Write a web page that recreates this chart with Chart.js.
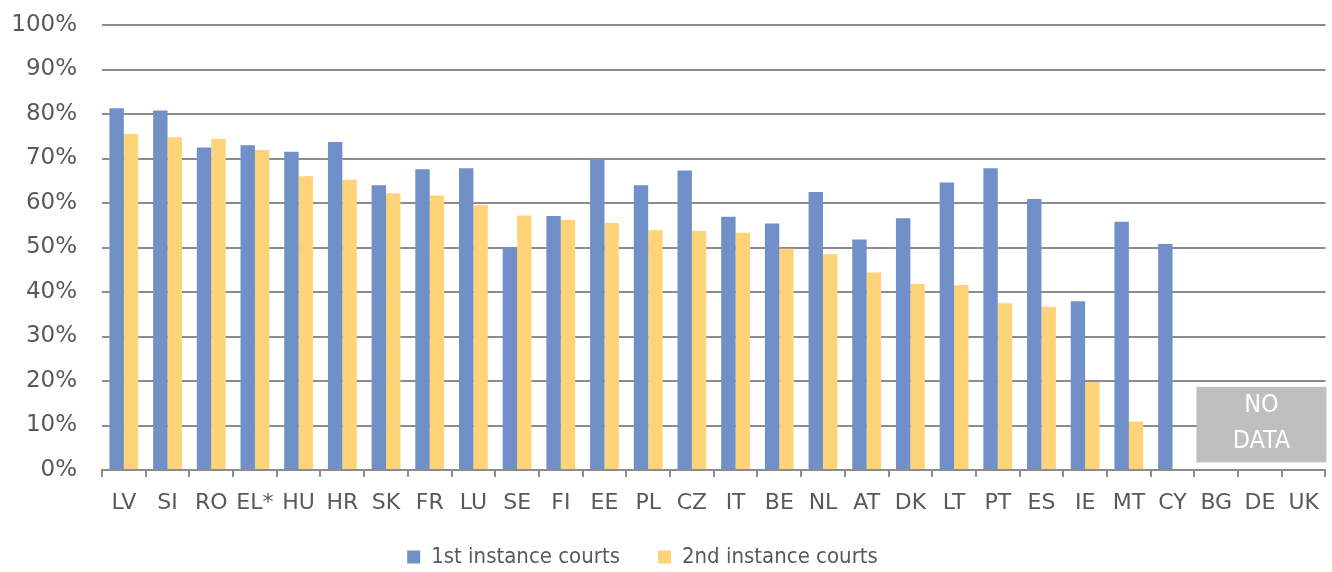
<!DOCTYPE html>
<html>
<head>
<meta charset="utf-8">
<script src="https://cdn.jsdelivr.net/npm/chart.js@4"></script>
<style>
  html, body { margin: 0; padding: 0; background: #fff; }
  #wrap { width: 1332px; height: 572px; }
</style>
</head>
<body>
<div id="wrap"><canvas id="courtsChart" width="1332" height="572"></canvas></div>
<script>
// countries in display order
const countries = ['LV', 'SI', 'RO', 'EL*', 'HU', 'HR', 'SK', 'FR', 'LU', 'SE', 'FI', 'EE', 'PL', 'CZ',
    'IT', 'BE', 'NL', 'AT', 'DK', 'LT', 'PT', 'ES', 'IE', 'MT', 'CY', 'BG', 'DE', 'UK'];

// share of cases (%)
const firstInstance = [81.3, 80.8, 72.5, 73.0, 71.5, 73.7, 64.0, 67.6, 67.8, 50.0, 57.1, 69.9, 64.0, 67.3,
    56.9, 55.4, 62.5, 51.8, 56.6, 64.6, 67.8, 60.9, 37.9, 55.8, 50.8, null, null, null];
const secondInstance = [75.5, 74.8, 74.4, 71.9, 66.0, 65.2, 62.2, 61.7, 59.5, 57.2, 56.2, 55.5, 53.9, 53.7,
    53.3, 49.7, 48.5, 44.4, 41.8, 41.6, 37.5, 36.7, 19.8, 10.9, null, null, null, null];

const yTicks = [0, 10, 20, 30, 40, 50, 60, 70, 80, 90, 100];
const noDataCountries = ['BG', 'DE', 'UK'];

const textColor = '#595959';
const wideFont = '"DejaVu Sans", sans-serif';
const narrowFont = '"DejaVu Sans Condensed", "DejaVu Sans", sans-serif';

// grey "NO DATA" box over the countries without figures
const noDataPlugin = {
    id: 'noData',
    afterDatasetsDraw(chart) {
        const { ctx, scales: { x, y }, chartArea } = chart;
        const first = countries.indexOf(noDataCountries[0]);
        const half = (x.getPixelForValue(1) - x.getPixelForValue(0)) / 2;
        const left = x.getPixelForValue(first) - half + 2;
        const right = chartArea.right + 1;
        const top = y.getPixelForValue(18.7);
        const bottom = y.getPixelForValue(1.7);
        ctx.save();
        ctx.fillStyle = '#bfbfbf';
        ctx.fillRect(left, top, right - left, bottom - top);
        ctx.fillStyle = '#ffffff';
        ctx.font = '25px ' + narrowFont;
        ctx.textAlign = 'center';
        ctx.textBaseline = 'middle';
        const cx = (left + right) / 2;
        ctx.fillText('NO', cx, top + 19);
        ctx.fillText('DATA', cx, top + 55);
        ctx.restore();
    }
};

// nudge the legend a bit left and up, like the original
const legendNudge = {
    id: 'legendNudge',
    afterLayout(chart) {
        chart.legend.left -= 42;
        chart.legend.top -= 12;
    }
};

const ctx = document.getElementById('courtsChart').getContext('2d');
const courtsChart = new Chart(ctx, {
    type: 'bar',
    data: {
        labels: countries,
        datasets: [{
            label: '1st instance courts',
            data: firstInstance,
            backgroundColor: '#7290c8',
            categoryPercentage: 0.66,
            barPercentage: 1.0
        }, {
            label: '2nd instance courts',
            data: secondInstance,
            backgroundColor: '#ffd378',
            categoryPercentage: 0.66,
            barPercentage: 1.0
        }]
    },
    options: {
        responsive: false,
        animation: false,
        layout: { padding: { top: 0, right: 5, left: 0, bottom: -18 } },
        plugins: {
            legend: {
                position: 'bottom',
                labels: {
                    boxWidth: 13,
                    boxHeight: 13,
                    padding: 38,
                    color: textColor,
                    font: { family: narrowFont, size: 22 }
                }
            },
            tooltip: { enabled: false }
        },
        scales: {
            x: {
                afterFit(scale) {
                    scale.height = 50;
                },
                grid: {
                    display: true,
                    drawOnChartArea: false,
                    offset: true,
                    color: '#8c8c8c',
                    lineWidth: 2,
                    tickLength: 7
                },
                border: { color: '#8c8c8c', width: 2 },
                ticks: {
                    color: textColor,
                    font: { family: wideFont, size: 22 },
                    maxRotation: 0,
                    autoSkip: false,
                    padding: 13
                }
            },
            y: {
                min: 0,
                max: 100,
                afterBuildTicks(scale) {
                    scale.ticks = yTicks.map(v => ({ value: v }));
                },
                afterFit(scale) {
                    scale.width = 102;
                    scale.paddingTop = 25;
                },
                grid: {
                    color: '#8c8c8c',
                    lineWidth: 2,
                    drawTicks: false
                },
                border: { display: false },
                ticks: {
                    color: textColor,
                    font: { family: wideFont, size: 23, lineHeight: 1 },
                    padding: 25,
                    callback: v => v + '%'
                }
            }
        }
    },
    plugins: [noDataPlugin, legendNudge]
});
</script>
</body>
</html>
